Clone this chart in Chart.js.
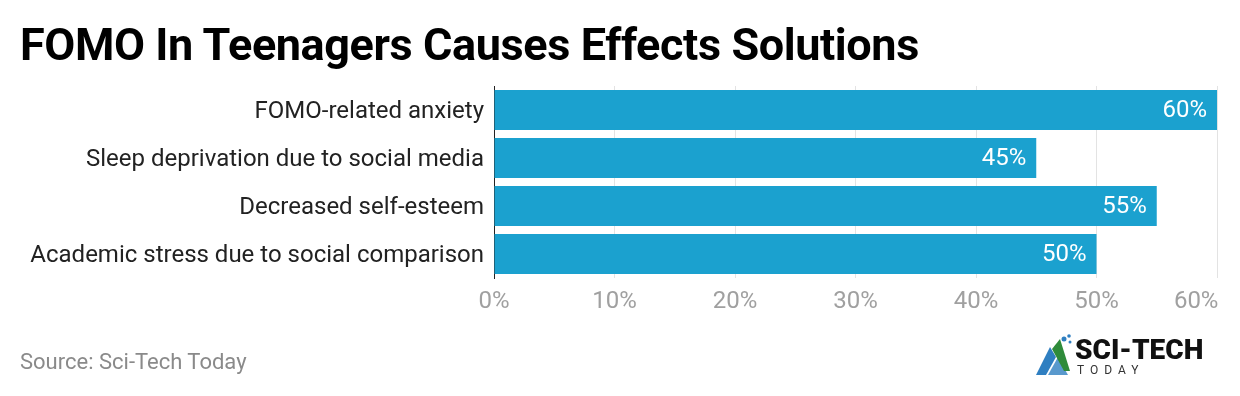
<!DOCTYPE html>
<html>
<head>
<meta charset="utf-8">
<script src="https://cdn.jsdelivr.net/npm/chart.js@4/dist/chart.umd.min.js"></script>
<style>
  html, body { margin: 0; padding: 0; background: #fff; }
  body { width: 1240px; height: 396px; position: relative; overflow: hidden; font-family: Roboto, "Noto Sans", sans-serif; }
  #title { position: absolute; left: 20px; top: 18px; font-size: 45px; font-weight: 700; color: #000; letter-spacing: -0.4px; white-space: nowrap; }
  #source { position: absolute; left: 20px; top: 349px; font-size: 22px; color: #8a8a8a; }
  #logo { position: absolute; left: 1034px; top: 333px; width: 180px; height: 46px; }
  #logo .big { position: absolute; left: 41px; top: 0px; font-size: 28px; font-weight: 900; color: #111; letter-spacing: 0px; }
  #logo .small { position: absolute; left: 43px; top: 30px; font-size: 12px; color: #333; letter-spacing: 6px; }
  #wrap { position: absolute; left: 0; top: 0; width: 1240px; height: 396px; }
</style>
</head>
<body>
<div id="wrap"><canvas id="chart" width="1240" height="396"></canvas></div>
<div id="title">FOMO In Teenagers Causes Effects Solutions</div>
<div id="source">Source: Sci-Tech Today</div>
<div id="logo">
  <svg width="40" height="44" viewBox="0 0 40 44" style="position:absolute;left:0;top:0">
    <polygon points="2,42 16,14 22,24 12,42" fill="#2f7fc1"/>
    <polygon points="14,42 24,24 34,42" fill="#2f7fc1" opacity="0.8"/>
    <polygon points="18,16 26,6 36,38 30,38" fill="#2e8b3a"/>
    <circle cx="30" cy="6" r="2.5" fill="#2f7fc1"/>
    <circle cx="35" cy="3" r="1.8" fill="#2f7fc1"/>
    <circle cx="36" cy="9" r="1.5" fill="#2f7fc1"/>
  </svg>
  <span class="big">SCI-TECH</span>
  <span class="small">TODAY</span>
</div>
<script>
// Données du graphique
const categories = [
    'FOMO-related anxiety',
    'Sleep deprivation due to social media',
    'Decreased self-esteem',
    'Academic stress due to social comparison'
];
const values = [60, 45, 55, 50];
const tickValues = [0, 10, 20, 30, 40, 50, 60];

// Étiquettes de valeur dans les barres
const valueLabels = {
    id: 'valueLabels',
    afterDatasetsDraw(chart) {
        const ctx = chart.ctx;
        const meta = chart.getDatasetMeta(0);
        ctx.save();
        ctx.font = '24px Roboto, sans-serif';
        ctx.fillStyle = '#ffffff';
        ctx.textAlign = 'right';
        ctx.textBaseline = 'middle';
        meta.data.forEach((bar, i) => {
            ctx.fillText(values[i] + '%', bar.x - 10, bar.y + 1);
        });
        ctx.restore();
    }
};

const ctx = document.getElementById('chart');
const myChart = new Chart(ctx, {
    type: 'bar',
    data: {
        labels: categories,
        datasets: [{
            data: values,
            backgroundColor: '#1ba1cf',
            borderWidth: 0,
            barPercentage: 1,
            categoryPercentage: 40 / 48
        }]
    },
    options: {
        indexAxis: 'y',
        responsive: false,
        animation: false,
        layout: { padding: { top: 86, right: 23, left: 0, bottom: 0 } },
        plugins: {
            legend: { display: false },
            tooltip: { enabled: false }
        },
        scales: {
            x: {
                min: 0,
                max: 60,
                afterBuildTicks: (scale) => { scale.ticks = tickValues.map(v => ({ value: v })); },
                afterFit: (scale) => {
                    scale.height = 118;
                    scale.paddingLeft = 0;
                    scale.paddingRight = 0;
                },
                grid: { color: '#e3e3e3', lineWidth: 1, drawTicks: false },
                border: { display: false },
                ticks: {
                    padding: 10,
                    color: '#a0a0a0',
                    font: { family: 'Roboto', size: 24 },
                    // le dernier libellé est décalé pour rester dans le cadre
                    callback: (v) => v === 60 ? v + '%       ' : v + '%'
                }
            },
            y: {
                afterFit: (scale) => { scale.width = 494; },
                grid: { display: false, drawTicks: false },
                border: { display: true, color: '#222', width: 1 },
                ticks: {
                    padding: 10,
                    labelOffset: 2,
                    color: '#222',
                    font: { family: 'Roboto', size: 24 }
                }
            }
        }
    },
    plugins: [valueLabels]
});
</script>
</body>
</html>
